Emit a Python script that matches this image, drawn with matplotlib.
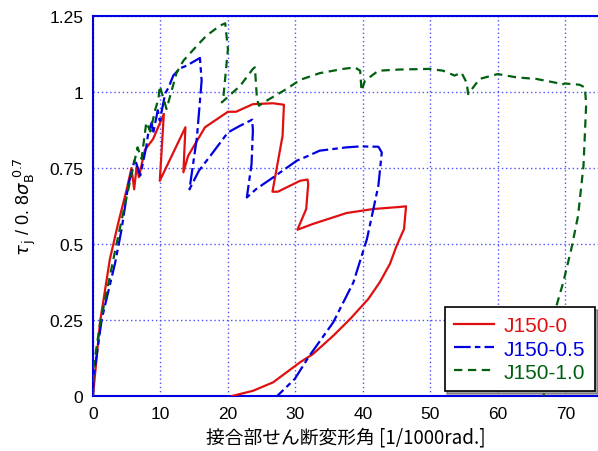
#!/usr/bin/env python3
# -*- coding: utf-8 -*-
import numpy as np
from matplotlib import pyplot as plt

plt.rcParams['font.family'] = ['Liberation Sans', 'Noto Sans CJK JP', 'DejaVu Sans']
plt.rcParams['lines.scale_dashes'] = False

# J150-0 (red, solid)
x_j0 = [0, 1.04, 2.5, 3.75, 5.0, 5.7, 6.1, 6.5, 6.8, 7.7, 8.9, 10.5, 9.9, 13.7, 13.4, 14.1,
        16.6, 20.0, 21.2, 23.7, 26.7, 28.3, 28.1, 26.6, 27.4, 30.7, 31.8, 31.9, 31.6, 30.3,
        32.6, 37.6, 41.5, 45.5, 46.4, 46.1, 45.0, 44.0, 42.5, 40.8, 38.1, 35.6, 32.6, 30.7,
        26.7, 23.7, 20.6]
y_j0 = [0, 0.243, 0.45, 0.57, 0.68, 0.75, 0.68, 0.76, 0.72, 0.81, 0.845, 0.928, 0.708, 0.884,
        0.736, 0.79, 0.884, 0.935, 0.935, 0.96, 0.963, 0.958, 0.856, 0.672, 0.672, 0.708, 0.712,
        0.697, 0.615, 0.547, 0.566, 0.602, 0.615, 0.622, 0.624, 0.549, 0.494, 0.434, 0.374,
        0.319, 0.253, 0.198, 0.138, 0.111, 0.045, 0.017, 0.0]

# J150-0.5 (blue, dash-dot)
x_j05 = [0, 0.05, 1.3, 3.3, 4.25, 5.2, 6.2, 7.0, 7.9, 8.2, 8.7, 8.9, 9.6, 9.9, 10.7, 11.2,
         11.9, 12.9, 13.6, 14.3, 15.85, 16.1, 15.4, 14.3, 15.7, 17.6, 20.0, 21.8, 23.6, 23.7,
         23.5, 22.8, 24.2, 26.7, 30.2, 31.9, 33.6, 37.6, 39.6, 42.3, 42.8, 42.3, 40.6, 38.6,
         35.6, 32.1, 29.9, 27.3]
y_j05 = [0, 0.056, 0.253, 0.44, 0.55, 0.69, 0.78, 0.725, 0.82, 0.867, 0.9, 0.862, 0.94, 0.906,
         0.995, 1.015, 1.054, 1.078, 1.084, 1.092, 1.112, 1.037, 0.85, 0.68, 0.741, 0.796, 0.867,
         0.889, 0.909, 0.873, 0.763, 0.653, 0.681, 0.719, 0.774, 0.79, 0.807, 0.818, 0.821,
         0.82, 0.801, 0.692, 0.516, 0.374, 0.242, 0.133, 0.056, 0.0]

# J150-1.0 (green, dashed)
x_j10 = [0, 0.05, 1.0, 2.0, 3.3, 4.7, 6.0, 6.6, 7.2, 7.9, 8.5, 9.2, 9.7, 9.9, 10.9, 12.4,
         13.4, 15.4, 16.8, 18.8, 19.6, 20.0, 19.3, 19.1, 21.8, 23.7, 24.0, 24.3, 24.6, 25.7,
         28.7, 30.7, 33.6, 37.1, 38.8, 39.6, 39.8, 40.3, 42.3, 45.5, 49.9, 51.9, 53.6, 54.6,
         55.4, 55.6, 57.3, 60.0, 62.8, 65.7, 68.7, 69.4, 69.9, 72.1, 72.9, 73.1, 72.7, 71.9,
         70.9, 69.7, 68.7, 67.5, 66.8]
y_j10 = [0, 0.09, 0.231, 0.34, 0.48, 0.626, 0.757, 0.818, 0.78, 0.9, 0.87, 0.94, 0.977, 1.02,
         0.944, 1.064, 1.103, 1.152, 1.185, 1.218, 1.226, 1.141, 0.977, 0.966, 1.02, 1.076,
         1.081, 0.977, 0.955, 0.971, 1.01, 1.04, 1.062, 1.076, 1.081, 1.07, 1.004, 1.037, 1.07,
         1.074, 1.076, 1.07, 1.054, 1.064, 1.03, 0.993, 1.043, 1.059, 1.048, 1.043, 1.03,
         1.023, 1.028, 1.024, 1.015, 0.96, 0.757, 0.593, 0.484, 0.374, 0.297, 0.15, 0.0]

fig = plt.figure(figsize=(5.98, 4.52), dpi=100)
ax = fig.add_axes([93 / 598, 55 / 452, 506 / 598, 380 / 452])

ax.plot(x_j0, y_j0, c='#e01010', lw=1.6, label='J150-0', zorder=3)
ax.plot(x_j05, y_j05, c='#0000e0', lw=1.6, dashes=[12, 3, 4, 3], label='J150-0.5', zorder=3)
ax.plot(x_j10, y_j10, c='#006010', lw=1.6, dashes=[6, 4], label='J150-1.0', zorder=3)

ax.set_xlim(0, 75)
ax.set_ylim(0, 1.25)
ax.set_xticks(np.arange(0, 80, 10))
ax.set_yticks([0, 0.25, 0.5, 0.75, 1, 1.25])
ax.set_yticklabels(['0', '0.25', '0.5', '0.75', '1', '1.25'])
ax.tick_params(length=0, labelsize=12.5, pad=7)
ax.grid(True, color='#5050ff', ls=(0, (1, 2)), lw=1.0)
for s in ax.spines.values():
    s.set_color('#0000e0')
    s.set_linewidth(1.5)

ax.set_xlabel('接合部せん断変形角 [1/1000rad.]', fontsize=13.5,
              family=['Noto Sans CJK JP', 'DejaVu Sans'], labelpad=4)
ax.set_ylabel(r'$\tau_{\,\mathrm{j}}$ / 0. 8$\sigma_{\mathrm{B}}^{\ 0.7}$', fontsize=13, labelpad=8)

leg = ax.legend(loc='lower right', bbox_to_anchor=(0.992, 0.013), fontsize=15,
                fancybox=False, shadow=True, framealpha=1, edgecolor='black',
                handlelength=1.9, handletextpad=0.5, borderpad=0.45, labelspacing=0.2,
                borderaxespad=0)
leg.get_frame().set_linewidth(1.2)
for txt, ln in zip(leg.get_texts(), leg.get_lines()):
    txt.set_color(ln.get_color())

plt.savefig('out.png', dpi=100)
plt.close()
